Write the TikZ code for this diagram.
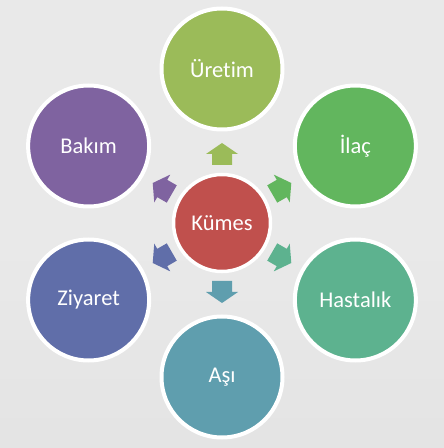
\documentclass[tikz,border=0pt]{standalone}
\usepackage{fontspec}
\setmainfont{Carlito}[Ligatures=NoCommon]
\usetikzlibrary{calc}
\definecolor{bg}{HTML}{E9E9E9}
\definecolor{cKumes}{HTML}{C0504D}
\definecolor{cUretim}{HTML}{9BBB59}
\definecolor{cIlac}{HTML}{62B65E}
\definecolor{cHastalik}{HTML}{5DB28F}
\definecolor{cAsi}{HTML}{5F9EAE}
\definecolor{cZiyaret}{HTML}{606EA9}
\definecolor{cBakim}{HTML}{7F63A0}
\tikzset{
  outer/.style={circle, draw=white, line width=4pt, minimum size=121pt, inner sep=0pt, text=white, font=\fontsize{22.5}{26}\selectfont},
  hub/.style={circle, draw=white, line width=3.5pt, minimum size=97pt, inner sep=0pt, text=white, font=\fontsize{22.5}{26}\selectfont}
}
\begin{document}
\begin{tikzpicture}[x=1pt,y=1pt]
\shade[top color=bg, bottom color=bg!95!gray, middle color=bg!98!white] (0,0) rectangle (444,448);
\useasboundingbox (0,0) rectangle (444,448);
\node[hub, fill=cKumes] (k) at (222,225) {Kümes};
\node[outer, fill=cUretim]   (u) at ($(k)+(90:154)$)  {Üretim};
\node[outer, fill=cIlac]     (i) at ($(k)+(30:154)$)  {İlaç};
\node[outer, fill=cHastalik] (h) at ($(k)+(-30:154)$) {Hastalık};
\node[outer, fill=cAsi]      (a) at ($(k)+(-90:154)$) {Aşı};
\node[outer, fill=cZiyaret]  (z) at ($(k)+(-150:154)$) {Ziyaret};
\node[outer, fill=cBakim]    (b) at ($(k)+(150:154)$) {Bakım};
\foreach \t/\ang/\col in {u/90/cUretim, i/30/cIlac, h/-30/cHastalik, a/-90/cAsi, z/-150/cZiyaret, b/150/cBakim}{
  \coordinate (s\t) at ($(k)!58pt!(\t)$);
  \fill[\col, shift={(s\t)}, rotate=\ang]
    (0,-10) -- (11,-10) -- (11,-16) -- (22,0) -- (11,16) -- (11,10) -- (0,10) -- cycle;
}
\end{tikzpicture}
\end{document}
